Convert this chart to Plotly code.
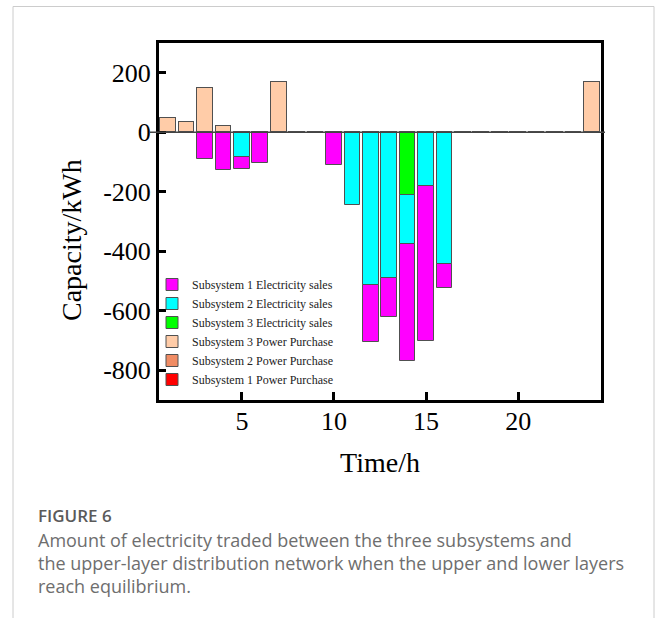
import plotly.graph_objects as go

hours = list(range(1, 25))

# Subsystem 3 power purchase (positive)
ss3_purchase = [48, 36, 150, 22, 0, 0, 168, 0, 0, 0, 0, 0, 0, 0, 0, 0, 0, 0, 0, 0, 0, 0, 0, 168]
ss2_purchase = [0] * 24
ss1_purchase = [0] * 24

# Electricity sales (negative)
ss3_sales = [0, 0, 0, 0, 0, 0, 0, 0, 0, 0, 0, 0, 0, -211, 0, 0, 0, 0, 0, 0, 0, 0, 0, 0]
ss2_sales = [0, 0, 0, 0, -84, 0, 0, 0, 0, 0, -246, -515, -489, -165, -180, -444, 0, 0, 0, 0, 0, 0, 0, 0]
ss1_sales = [0, 0, -90, -126, -40, -104, 0, 0, 0, -110, 0, -190, -133, -394, -522, -79, 0, 0, 0, 0, 0, 0, 0, 0]

x_ticks = [5, 10, 15, 20]
y_ticks = [200, 0, -200, -400, -600, -800]
y_tick_labels = ["200", "0", "-200", "-400", "-600", "-800"]

SERIF = "Liberation Serif"
OUT = dict(color="#505050", width=1)
W = 0.85

fig = go.Figure()
fig.add_bar(x=hours, y=ss3_sales, name="Subsystem 3 Electricity sales",
            marker=dict(color="#00FF00", line=OUT), width=W, legendrank=3)
fig.add_bar(x=hours, y=ss2_sales, name="Subsystem 2 Electricity sales",
            marker=dict(color="#00FFFF", line=OUT), width=W, legendrank=2)
fig.add_bar(x=hours, y=ss1_sales, name="Subsystem 1 Electricity sales",
            marker=dict(color="#FF00FF", line=OUT), width=W, legendrank=1)
fig.add_bar(x=hours, y=ss3_purchase, name="Subsystem 3 Power Purchase",
            marker=dict(color="#FFCCA8", line=OUT), width=W, legendrank=4)
fig.add_bar(x=hours, y=ss2_purchase, name="Subsystem 2 Power Purchase",
            marker=dict(color="#F08C64", line=OUT), width=W, legendrank=5)
fig.add_bar(x=hours, y=ss1_purchase, name="Subsystem 1 Power Purchase",
            marker=dict(color="#FF0000", line=OUT), width=W, legendrank=6)

# paper coordinate helpers (plot area 159..601 x, 43..400 y)
L, R, T, B = 159, 601, 43, 400
def px(xp):
    return (xp - L) / (R - L)
def py(yp):
    return (B - yp) / (B - T)

shapes = [
    # zero line extending slightly beyond frame
    dict(type="line", xref="paper", yref="y", x0=px(150), x1=px(605), y0=0, y1=0,
         line=dict(color="#444444", width=1.5), layer="above"),
    # card border (open at bottom)
    dict(type="path", xref="paper", yref="paper",
         path=f"M {px(13)} {py(640)} L {px(13)} {py(6.5)} L {px(654)} {py(6.5)} L {px(654)} {py(640)}",
         line=dict(color="#CCCCCC", width=1)),
]

cap_font = dict(family="Open Sans", size=18, color="#6E6E6E")
annotations = [
    dict(text="Capacity/kWh", xref="paper", yref="paper", x=px(71), y=py(240),
         xanchor="center", yanchor="middle", textangle=-90, showarrow=False,
         font=dict(family=SERIF, size=28, color="black")),
    dict(text="FIGURE 6", xref="paper", yref="paper", x=px(36), y=py(515), xanchor="left",
         yanchor="middle", showarrow=False,
         font=dict(family="Open Sans", size=17, color="#5A5A5A", weight=600)),
    dict(text="Amount of electricity traded between the three subsystems and", xref="paper",
         yref="paper", x=px(36), y=py(540), xanchor="left", yanchor="middle", showarrow=False,
         font=cap_font),
    dict(text="the upper-layer distribution network when the upper and lower layers", xref="paper",
         yref="paper", x=px(36), y=py(563), xanchor="left", yanchor="middle", showarrow=False,
         font=cap_font),
    dict(text="reach equilibrium.", xref="paper",
         yref="paper", x=px(36), y=py(586), xanchor="left", yanchor="middle", showarrow=False,
         font=cap_font),
]

fig.update_layout(
    width=656, height=618,
    margin=dict(l=L, r=656 - R, t=T, b=618 - B, autoexpand=False),
    paper_bgcolor="white", plot_bgcolor="white",
    barmode="relative", bargap=0,
    font=dict(family=SERIF, color="black"),
    shapes=shapes, annotations=annotations,
    legend=dict(x=px(152), y=py(270), xanchor="left", yanchor="top",
                bgcolor="rgba(0,0,0,0)", font=dict(family=SERIF, size=12, color="#222"),
                tracegroupgap=0, itemwidth=30),
    xaxis=dict(range=[0.5, 24.5], tickvals=x_ticks, ticks="inside", ticklen=8, tickwidth=2.5,
               tickcolor="black", showline=True, linecolor="black", linewidth=3, mirror=True,
               showgrid=False, zeroline=False, tickfont=dict(family=SERIF, size=26),
               ticklabelstandoff=-4,
               title=dict(text="Time/h", font=dict(family=SERIF, size=28), standoff=18)),
    yaxis=dict(range=[-900, 300], tickvals=y_ticks, ticktext=y_tick_labels, ticks="inside",
               ticklen=7, tickwidth=2.5,
               tickcolor="black", showline=True, linecolor="black", linewidth=3, mirror=True,
               showgrid=False, zeroline=False, tickfont=dict(family=SERIF, size=26)),
)

fig.write_html("out.html", config={"displayModeBar": False},
               post_script="document.body.style.margin='0';document.body.style.overflow='hidden';")
